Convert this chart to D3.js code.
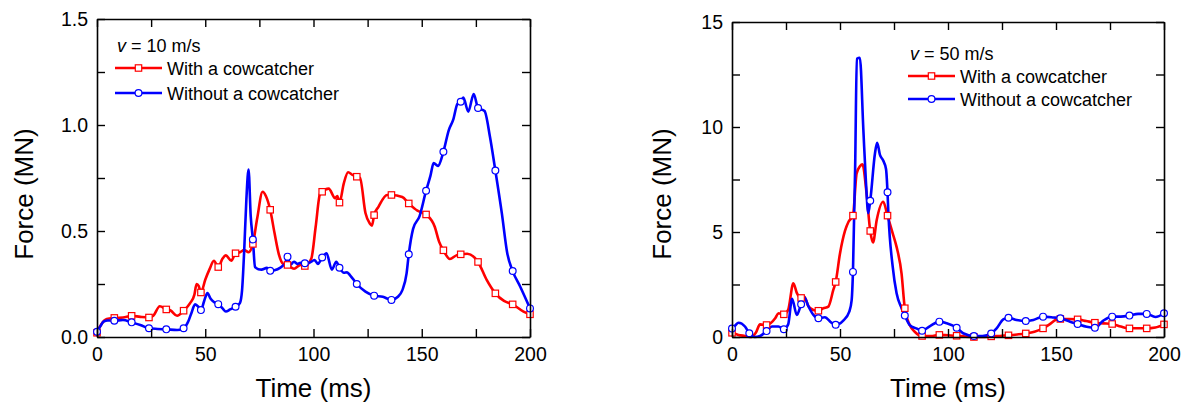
<!DOCTYPE html>
<html>
<head>
<meta charset="utf-8">
<script src="https://cdn.jsdelivr.net/npm/d3@7"></script>
<style>
  body { margin: 0; background: #fff; }
  svg { display: block; font-family: "Liberation Sans", Arial, sans-serif; }
</style>
</head>
<body>
<div id="chart"></div>
<script>
// v = 10 m/s, with a cowcatcher
const t10With = [0, 2, 4.5, 8, 12, 16, 20, 24, 26, 29, 32, 34, 37, 40, 43, 45, 46, 47, 48, 50, 52, 54, 56, 58, 59.5, 62, 64, 66, 68, 70, 72, 74, 76.5, 78, 80, 82, 84, 86, 88, 91, 94, 96, 99, 101, 103, 104, 107, 110, 111, 112, 114, 116, 118, 120, 121.5, 124, 126, 127, 128, 130, 134, 136, 141, 144, 148, 152, 156, 158, 160, 163, 166, 168, 171, 176, 180, 184, 188, 192, 197, 200];
const f10With = [0.02, 0.06, 0.085, 0.09, 0.092, 0.10, 0.095, 0.092, 0.10, 0.145, 0.13, 0.125, 0.10, 0.124, 0.16, 0.20, 0.25, 0.24, 0.21, 0.27, 0.32, 0.36, 0.33, 0.37, 0.385, 0.36, 0.395, 0.40, 0.41, 0.40, 0.439, 0.56, 0.685, 0.665, 0.60, 0.49, 0.39, 0.345, 0.34, 0.322, 0.34, 0.335, 0.37, 0.52, 0.675, 0.685, 0.70, 0.655, 0.665, 0.634, 0.725, 0.777, 0.765, 0.756, 0.75, 0.585, 0.535, 0.525, 0.575, 0.614, 0.67, 0.67, 0.66, 0.63, 0.596, 0.578, 0.52, 0.45, 0.409, 0.368, 0.385, 0.39, 0.393, 0.354, 0.269, 0.206, 0.17, 0.154, 0.12, 0.107];

// v = 10 m/s, without a cowcatcher
const t10Without = [0, 1.5, 3, 5, 8, 12, 16, 20, 24, 28, 32, 37, 40, 42, 43.5, 45.3, 47, 48, 49.5, 51, 52.5, 54, 56, 58, 59.5, 61.5, 64, 66, 67, 68, 69, 70, 71, 72, 73, 74.5, 76, 78.5, 80, 82, 84.5, 87, 88, 89.2, 91, 92.5, 94, 96, 98, 100.5, 102, 104, 106, 108.5, 110.5, 112, 114, 115.5, 117, 120, 124, 128, 132, 136, 139, 141, 143, 144, 146, 149, 152, 154, 155.5, 157.5, 160, 162.5, 164.5, 166.5, 168, 169.2, 171.5, 174, 176, 179, 181.5, 184, 187, 189.5, 192, 195.5, 200];
const f10Without = [0.025, 0.05, 0.072, 0.078, 0.077, 0.08, 0.069, 0.057, 0.041, 0.038, 0.036, 0.033, 0.041, 0.07, 0.11, 0.154, 0.14, 0.127, 0.17, 0.207, 0.18, 0.165, 0.155, 0.135, 0.12, 0.13, 0.143, 0.16, 0.22, 0.41, 0.65, 0.79, 0.57, 0.46, 0.33, 0.32, 0.318, 0.326, 0.312, 0.315, 0.326, 0.35, 0.379, 0.34, 0.355, 0.345, 0.35, 0.348, 0.35, 0.363, 0.345, 0.375, 0.395, 0.318, 0.355, 0.327, 0.303, 0.305, 0.29, 0.25, 0.214, 0.195, 0.19, 0.175, 0.19, 0.22, 0.30, 0.39, 0.51, 0.57, 0.69, 0.76, 0.82, 0.807, 0.874, 0.976, 1.024, 1.10, 1.11, 1.13, 1.063, 1.146, 1.08, 1.066, 0.945, 0.785, 0.583, 0.395, 0.311, 0.237, 0.135];

// v = 50 m/s, with a cowcatcher
const t50With = [0, 3, 6, 9, 11, 13, 16, 20, 21.5, 24, 26, 28.4, 30, 32, 33.5, 35.3, 37.7, 40, 42.3, 44.6, 46.9, 48, 50, 52.3, 54, 56, 57.7, 59.3, 60.4, 62.3, 64, 65.3, 67, 70, 72, 74.4, 76.2, 78.5, 80, 82.3, 84.6, 88, 92, 96, 100, 104, 108, 112, 116, 120, 124, 128, 132, 136, 140, 144, 147, 150, 152, 156, 160, 164, 168, 172, 176, 180, 184, 188, 192, 196, 200];
const f50With = [0.2, 0.1, 0.05, 0.0, 0.2, 0.6, 0.57, 0.89, 1.13, 1.08, 1.29, 2.56, 2.1, 1.86, 1.92, 1.48, 1.29, 1.25, 1.37, 1.45, 2.24, 2.62, 3.98, 5.05, 5.5, 5.78, 7.79, 8.14, 8.22, 6.84, 5.05, 4.5, 5.57, 6.44, 5.78, 4.94, 4.29, 3.02, 1.37, 0.57, 0.25, 0.05, 0.05, 0.1, 0.08, 0.06, 0.02, 0.0, 0.0, 0.03, 0.05, 0.08, 0.12, 0.17, 0.25, 0.41, 0.6, 0.82, 0.86, 0.86, 0.84, 0.76, 0.68, 0.65, 0.62, 0.5, 0.41, 0.42, 0.41, 0.45, 0.6];

// v = 50 m/s, without a cowcatcher
const t50Without = [0, 1.5, 3, 6, 8, 10.5, 13, 16, 18.5, 21.5, 24, 26, 27.8, 30, 32, 33.5, 35.3, 37.7, 40, 43, 46, 48, 51.5, 54.3, 55.4, 56, 57, 57.8, 59.2, 60.8, 62, 63.1, 64, 66.2, 67.2, 68.5, 70, 71.3, 72, 72.4, 74.4, 76.2, 78.5, 80, 82.3, 85.3, 88, 91.7, 96, 99.4, 104, 107, 112, 116, 120, 122.5, 125.6, 128, 131.8, 136, 139.5, 144, 148.8, 152, 156.5, 160, 164.2, 168, 171.9, 176, 180, 184, 188, 192, 196, 200];
const f50Without = [0.4, 0.55, 0.68, 0.5, 0.18, 0.0, 0.05, 0.28, 0.5, 0.5, 0.37, 0.6, 1.82, 1.05, 1.56, 1.89, 1.48, 1.05, 0.89, 0.94, 0.68, 0.58, 0.78, 1.21, 1.76, 3.1, 8.0, 13.25, 13.3, 9.9, 7.4, 5.9, 6.49, 8.75, 9.25, 8.67, 8.4, 8.0, 6.89, 5.89, 3.35, 2.08, 1.37, 1.02, 0.57, 0.41, 0.3, 0.52, 0.73, 0.65, 0.44, 0.18, 0.05, 0.05, 0.17, 0.41, 0.84, 0.92, 0.81, 0.76, 0.81, 0.97, 0.93, 0.89, 0.73, 0.62, 0.49, 0.44, 0.78, 0.97, 0.97, 1.02, 1.1, 1.1, 0.95, 1.13];

const xTicks = [0, 25, 50, 75, 100, 125, 150, 175, 200];
const xLabels = [0, 50, 100, 150, 200];
const yTicks10 = [0, 0.25, 0.5, 0.75, 1.0, 1.25, 1.5];
const yLabels10 = [0, 0.5, 1.0, 1.5];
const yTicks50 = [0, 2.5, 5, 7.5, 10, 12.5, 15];
const yLabels50 = [0, 5, 10, 15];
const seriesNames = ['With a cowcatcher', 'Without a cowcatcher'];

const red = '#ff0000';
const blue = '#0000ff';

const svg = d3.select('#chart').append('svg')
  .attr('width', 1186)
  .attr('height', 403);

const zip = (ts, vs) => ts.map((t, i) => ({ t, v: vs[i] }));

const panels = [
  {
    left: 97, right: 530, top: 19, bottom: 337,
    yMax: 1.5, yTicks: yTicks10, yLabels: yLabels10, fmt: d3.format('.1f'),
    speed: '10', legendX: 115, legendY: 52, legendGap: 25, yTitleX: 24,
    series: [zip(t10With, f10With), zip(t10Without, f10Without)]
  },
  {
    left: 732, right: 1164, top: 22, bottom: 337,
    yMax: 15, yTicks: yTicks50, yLabels: yLabels50, fmt: d3.format('d'),
    speed: '50', legendX: 908, legendY: 60, legendGap: 23, yTitleX: 662,
    series: [zip(t50With, f50With), zip(t50Without, f50Without)]
  }
];

const drawMarker = (sel, idx, colour) => {
  if (idx === 0) {
    sel.append('rect')
      .attr('x', -3.2).attr('y', -3.2)
      .attr('width', 6.4).attr('height', 6.4)
      .attr('fill', '#fff')
      .attr('stroke', colour)
      .attr('stroke-width', 1.2);
  } else {
    sel.append('circle')
      .attr('r', 3.4)
      .attr('fill', '#fff')
      .attr('stroke', colour)
      .attr('stroke-width', 1.2);
  }
};

panels.forEach(p => {
  const x = d3.scaleLinear().domain([0, 200]).range([p.left, p.right]);
  const y = d3.scaleLinear().domain([0, p.yMax]).range([p.bottom, p.top]);
  const g = svg.append('g');

  const line = d3.line()
    .x(d => x(d.t))
    .y(d => y(d.v))
    .curve(d3.curveMonotoneX);

  const colours = [red, blue];
  p.series.forEach((data, i) => {
    g.append('path')
      .datum(data)
      .attr('fill', 'none')
      .attr('stroke', colours[i])
      .attr('stroke-width', 2.6)
      .attr('stroke-linejoin', 'round')
      .attr('d', line);
  });
  p.series.forEach((data, i) => {
    g.selectAll(null)
      .data(data.filter(d => d.t % 8 === 0))
      .enter()
      .append('g')
      .attr('transform', d => `translate(${x(d.t)},${y(d.v)})`)
      .each(function() { drawMarker(d3.select(this), i, colours[i]); });
  });

  // axes, ticks pointing inward on all four sides
  const labelX = d => (xLabels.includes(d) ? d : '');
  const labelY = d => (p.yLabels.includes(d) ? p.fmt(d) : '');

  const axes = [
    g.append('g').attr('transform', `translate(0,${p.bottom})`)
      .call(d3.axisBottom(x).tickValues(xTicks).tickFormat(labelX).tickSizeInner(-8).tickSizeOuter(0).tickPadding(10)),
    g.append('g').attr('transform', `translate(0,${p.top})`)
      .call(d3.axisTop(x).tickValues(xTicks).tickFormat('').tickSizeInner(-8).tickSizeOuter(0)),
    g.append('g').attr('transform', `translate(${p.left},0)`)
      .call(d3.axisLeft(y).tickValues(p.yTicks).tickFormat(labelY).tickSizeInner(-8).tickSizeOuter(0).tickPadding(9)),
    g.append('g').attr('transform', `translate(${p.right},0)`)
      .call(d3.axisRight(y).tickValues(p.yTicks).tickFormat('').tickSizeInner(-8).tickSizeOuter(0))
  ];
  axes.forEach(a => {
    a.selectAll('.domain').attr('stroke', '#000').attr('stroke-width', 1.6);
    a.selectAll('.tick line').attr('stroke', '#000').attr('stroke-width', 1.4);
    a.selectAll('.tick text')
      .attr('fill', '#000')
      .style('font-size', '19.5px')
      .style('font-family', '"Liberation Sans", Arial, sans-serif');
  });

  // axis titles
  svg.append('text')
    .attr('x', (p.left + p.right) / 2)
    .attr('y', 397)
    .attr('text-anchor', 'middle')
    .style('font-size', '26px')
    .text('Time (ms)');
  svg.append('text')
    .attr('transform', `translate(${p.yTitleX},194) rotate(-90)`)
    .attr('text-anchor', 'middle')
    .attr('dy', '0.35em')
    .style('font-size', '26px')
    .text('Force (MN)');

  // legend
  const lg = svg.append('g').attr('transform', `translate(${p.legendX},${p.legendY})`);
  const title = lg.append('text').attr('x', 2).attr('y', 0).style('font-size', '18px');
  title.append('tspan').style('font-style', 'italic').text('v');
  title.append('tspan').text(` = ${p.speed} m/s`);
  seriesNames.forEach((name, i) => {
    const yy = 16 + i * p.legendGap;
    lg.append('line')
      .attr('x1', 0).attr('x2', 47)
      .attr('y1', yy).attr('y2', yy)
      .attr('stroke', colours[i])
      .attr('stroke-width', 2.6);
    const m = lg.append('g').attr('transform', `translate(23.5,${yy})`);
    drawMarker(m, i, colours[i]);
    lg.append('text')
      .attr('x', 52)
      .attr('y', yy + 6.5)
      .style('font-size', '18px')
      .text(name);
  });
});
</script>
</body>
</html>
